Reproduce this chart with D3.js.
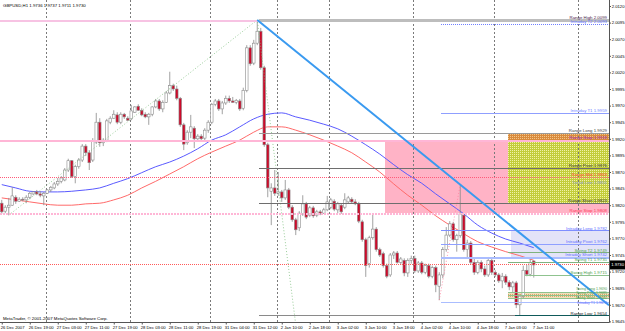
<!DOCTYPE html>
<html><head><meta charset="utf-8">
<script src="https://cdn.jsdelivr.net/npm/d3@7"></script>
<style>html,body{margin:0;padding:0;background:#fff;overflow:hidden}svg{display:block}text{font-family:"Liberation Sans",Arial,sans-serif}</style>
</head><body><svg id="c" width="625" height="331"></svg>
<script>
// ---------------- DATA ----------------
const symbolName = "GBPUSD,H1";
const copyrightText = "MetaTrader, \u00A9 2001-2007 MetaQuotes Software Corp.";
const timeLabels = ["26 Dec 2007","26 Dec 19:00","27 Dec 03:00","27 Dec 11:00","27 Dec 19:00","28 Dec 03:00","28 Dec 11:00","28 Dec 19:00","31 Dec 04:00","31 Dec 12:00","2 Jan 10:00","2 Jan 18:00","3 Jan 02:00","3 Jan 10:00","3 Jan 18:00","4 Jan 02:00","4 Jan 10:00","4 Jan 18:00","7 Jan 03:00","7 Jan 11:00"];
const timeLabelBars = [0,8,16,24,32,40,48,56,64,72,80,88,96,104,112,120,128,136,144,152];
const daySeparatorBars = [13,37,60,79,94,118,141,165];
const priceTicks = [2.0120,2.0095,2.0070,2.0045,2.0020,1.9995,1.9970,1.9945,1.9920,1.9895,1.9870,1.9845,1.9820,1.9795,1.9770,1.9745,1.9720,1.9695,1.9670,1.9645];

const opens = [1.9823,1.9811,1.9817,1.9820,1.9832,1.9826,1.9829,1.9828,1.9832,1.9837,
1.9840,1.9837,1.9834,1.9838,1.9843,1.9846,1.9852,1.9856,1.9858,1.9873,
1.9887,1.9863,1.9878,1.9888,1.9909,1.9899,1.9888,1.9915,1.9945,1.9914,
1.9918,1.9945,1.9951,1.9956,1.9945,1.9957,1.9951,1.9950,1.9960,1.9969,
1.9963,1.9957,1.9953,1.9957,1.9968,1.9977,1.9965,1.9975,1.9989,2.0000,
1.9995,1.9981,1.9941,1.9914,1.9930,1.9936,1.9920,1.9924,1.9921,1.9933,
1.9945,1.9972,1.9977,1.9965,1.9974,1.9981,1.9977,1.9975,1.9977,1.9966,
1.9993,2.0057,2.0034,2.0064,2.0082,2.0027,1.9911,1.9841,1.9846,1.9838,
1.9840,1.9831,1.9843,1.9817,1.9798,1.9786,1.9807,1.9822,1.9805,1.9816,
1.9805,1.9810,1.9808,1.9813,1.9817,1.9826,1.9813,1.9820,1.9817,1.9825,
1.9829,1.9825,1.9822,1.9795,1.9768,1.9732,1.9771,1.9784,1.9753,1.9747,
1.9729,1.9715,1.9745,1.9748,1.9734,1.9737,1.9718,1.9737,1.9740,1.9721,
1.9733,1.9719,1.9729,1.9713,1.9726,1.9698,1.9715,1.9753,1.9775,1.9792,
1.9768,1.9774,1.9805,1.9753,1.9763,1.9734,1.9719,1.9734,1.9724,1.9715,
1.9737,1.9719,1.9715,1.9706,1.9713,1.9704,1.9697,1.9703,1.9670,1.9683,
1.9722,1.9716,1.9736];
const highs = [1.9828,1.9820,1.9831,1.9847,1.9835,1.9832,1.9832,1.9835,1.9840,1.9841,
1.9843,1.9841,1.9840,1.9844,1.9849,1.9855,1.9861,1.9864,1.9876,1.9890,
1.9888,1.9881,1.9891,1.9912,1.9912,1.9903,1.9921,1.9959,1.9951,1.9921,
1.9950,1.9954,1.9963,1.9960,1.9960,1.9959,1.9954,1.9971,1.9969,1.9972,
1.9966,1.9960,1.9959,1.9969,1.9980,1.9980,1.9978,1.9992,2.0021,2.0003,
2.0000,1.9983,1.9944,1.9933,1.9956,1.9939,1.9927,1.9927,1.9936,1.9948,
1.9974,1.9980,1.9980,1.9977,1.9985,1.9985,1.9983,1.9980,1.9980,1.9997,
2.0061,2.0061,2.0069,2.0099,2.0087,2.0030,1.9914,1.9853,1.9873,1.9870,
1.9843,1.9858,1.9846,1.9820,1.9801,1.9811,1.9835,1.9825,1.9819,1.9819,
1.9813,1.9813,1.9816,1.9834,1.9831,1.9829,1.9825,1.9823,1.9838,1.9834,
1.9832,1.9829,1.9825,1.9798,1.9771,1.9774,1.9808,1.9787,1.9756,1.9750,
1.9732,1.9748,1.9751,1.9751,1.9742,1.9740,1.9740,1.9744,1.9744,1.9736,
1.9736,1.9732,1.9732,1.9729,1.9729,1.9719,1.9757,1.9787,1.9796,1.9795,
1.9777,1.9851,1.9808,1.9768,1.9766,1.9740,1.9737,1.9737,1.9729,1.9742,
1.9740,1.9722,1.9718,1.9718,1.9716,1.9707,1.9706,1.9706,1.9686,1.9729,
1.9730,1.9740,1.9737];
const lows = [1.9807,1.9808,1.9805,1.9819,1.9822,1.9825,1.9826,1.9823,1.9829,1.9835,
1.9835,1.9832,1.9820,1.9837,1.9840,1.9844,1.9849,1.9853,1.9856,1.9870,
1.9861,1.9853,1.9875,1.9885,1.9894,1.9873,1.9885,1.9912,1.9908,1.9909,
1.9915,1.9942,1.9950,1.9942,1.9942,1.9950,1.9947,1.9948,1.9959,1.9962,
1.9954,1.9951,1.9941,1.9954,1.9966,1.9962,1.9960,1.9974,1.9987,1.9992,
1.9978,1.9938,1.9903,1.9911,1.9921,1.9906,1.9917,1.9917,1.9918,1.9929,
1.9942,1.9969,1.9962,1.9957,1.9971,1.9974,1.9974,1.9972,1.9962,1.9963,
1.9990,2.0030,2.0031,2.0061,2.0024,1.9908,1.9832,1.9790,1.9834,1.9834,
1.9825,1.9828,1.9814,1.9795,1.9775,1.9781,1.9804,1.9799,1.9802,1.9801,
1.9802,1.9805,1.9807,1.9811,1.9814,1.9811,1.9808,1.9807,1.9814,1.9822,
1.9822,1.9820,1.9793,1.9765,1.9712,1.9726,1.9768,1.9750,1.9742,1.9726,
1.9710,1.9712,1.9739,1.9732,1.9730,1.9713,1.9712,1.9732,1.9718,1.9718,
1.9716,1.9716,1.9710,1.9710,1.9689,1.9677,1.9710,1.9750,1.9772,1.9765,
1.9750,1.9771,1.9750,1.9740,1.9730,1.9715,1.9716,1.9719,1.9712,1.9712,
1.9715,1.9712,1.9703,1.9695,1.9700,1.9692,1.9689,1.9665,1.9654,1.9680,
1.9713,1.9713,1.9711];
const closes = [1.9810,1.9817,1.9820,1.9834,1.9826,1.9829,1.9828,1.9832,1.9838,1.9840,
1.9837,1.9835,1.9838,1.9843,1.9847,1.9852,1.9856,1.9861,1.9873,1.9887,
1.9863,1.9878,1.9888,1.9909,1.9899,1.9884,1.9917,1.9945,1.9914,1.9918,
1.9947,1.9951,1.9957,1.9945,1.9957,1.9953,1.9948,1.9962,1.9968,1.9963,
1.9956,1.9953,1.9957,1.9968,1.9977,1.9965,1.9975,1.9989,2.0000,1.9995,
1.9981,1.9941,1.9912,1.9930,1.9938,1.9920,1.9924,1.9920,1.9933,1.9945,
1.9972,1.9977,1.9965,1.9974,1.9981,1.9977,1.9975,1.9978,1.9965,1.9993,
2.0057,2.0033,2.0064,2.0082,2.0027,1.9911,1.9846,1.9846,1.9838,1.9840,
1.9831,1.9843,1.9817,1.9798,1.9783,1.9808,1.9822,1.9802,1.9816,1.9804,
1.9810,1.9808,1.9813,1.9825,1.9828,1.9814,1.9822,1.9810,1.9828,1.9831,
1.9825,1.9822,1.9796,1.9768,1.9729,1.9771,1.9784,1.9753,1.9745,1.9729,
1.9713,1.9745,1.9748,1.9734,1.9739,1.9718,1.9737,1.9740,1.9721,1.9733,
1.9719,1.9729,1.9713,1.9726,1.9700,1.9715,1.9753,1.9775,1.9792,1.9768,
1.9774,1.9807,1.9753,1.9763,1.9734,1.9719,1.9734,1.9724,1.9715,1.9737,
1.9719,1.9715,1.9706,1.9713,1.9704,1.9697,1.9703,1.9670,1.9683,1.9722,
1.9716,1.9734,1.9730];

const maBars = [0,4,8,12,16,20,24,28,32,36,40,44,48,52,56,60,64,68,72,76,80,84,88,92,96,100,104,108,112,116,120,124,128,132,136,140,144,148,152];
const maBlue = [1.9851,1.9846,1.9841,1.9840,1.9840,1.9841,1.9843,1.9846,1.9853,1.9860,1.9869,1.9878,1.9885,1.9894,1.9905,1.9918,1.9926,1.9938,1.9950,1.9957,1.9959,1.9953,1.9948,1.9942,1.9935,1.9924,1.9911,1.9897,1.9881,1.9866,1.9853,1.9837,1.9822,1.9807,1.9790,1.9778,1.9769,1.9763,1.9756];
const maRed = [1.9831,1.9828,1.9825,1.9822,1.9820,1.9820,1.9822,1.9823,1.9828,1.9835,1.9846,1.9856,1.9867,1.9878,1.9890,1.9900,1.9909,1.9918,1.9930,1.9938,1.9938,1.9933,1.9926,1.9918,1.9909,1.9899,1.9885,1.9870,1.9852,1.9835,1.9820,1.9804,1.9790,1.9777,1.9765,1.9757,1.9750,1.9744,1.9737];

const levelNames  = ["","Range High","Intraday T2","Intraday T1","Range Long","Range Stop","Range Pivot","Range Mid","Trend Line","Range Short","Range Stop","Intraday Long","Intraday Pivot","Swing T2","Intraday Short","Swing T1","","Swing High","Swing Long","Swing Pivot","Swing Short","Intraday T1","","Range Low"];
const levelPrices = [2.0099,2.0099,2.0093,1.9959,1.9929,1.9918,1.9876,1.9863,1.9851,1.9823,1.9808,1.9782,1.9762,1.9749,1.9742,1.9735,1.9731,1.9715,1.9690,1.9685,1.9680,1.9674,1.9654,1.9654];
const levelFromBars = [0,74,126,126,74,0,74,0,null,74,0,126,126,145,126,145,0,150,145,145,145,126,74,147];
const levelToBars   = [null,null,null,null,null,null,null,null,null,null,null,null,null,null,null,null,null,null,null,null,null,null,147,null];

const zoneNames   = ["range box","range top","range body","intraday box","swing box"];
const zoneTops    = [1.9918,1.9929,1.9918,1.9782,1.9690];
const zoneBottoms = [1.9808,1.9918,1.9823,1.9742,1.9680];
const zoneFromBars = [110,145,145,146,145];

const trendBars = [73,131];
const trendPrices = [2.0099,1.9851];
const zigzagUpBars = [2,73,84];
const zigzagUpPrices = [1.9805,2.0099,1.9640];
const zigzagSpikeBars = [125,131];
const zigzagSpikePrices = [1.9677,1.9851];

// ---------------- DRAW ----------------
const svg = d3.select("#c");
const R = 609, B = 322;
const x = d3.scaleLinear().domain([0,152]).range([1.75,533.75]);
const y = d3.scaleLinear().domain([2.0120,1.9645]).range([6,321.4]);
const bw = x(1)-x(0);
const leftEdge = i => x(i) - bw/2;
const FS = 4.35;
const AFS = 4.2;

const defs = svg.append("defs");
defs.append("clipPath").attr("id","plot").append("rect").attr("x",0).attr("y",0).attr("width",R).attr("height",B);
function dotPattern(id, base, dot){
  const p = defs.append("pattern").attr("id",id).attr("width",2).attr("height",2).attr("patternUnits","userSpaceOnUse");
  p.append("rect").attr("width",2).attr("height",2).attr("fill",base);
  p.append("rect").attr("width",1).attr("height",1).attr("fill",dot);
}
dotPattern("pYel","#c3cd3a","#f0f2a6");
dotPattern("pOra","#d98b3c","#f2c48a");
dotPattern("pSw","#f3dfbd","#dcaa66");

svg.append("rect").attr("width",625).attr("height",331).attr("fill","#fff");
const g = svg.append("g").attr("clip-path","url(#plot)");

const zoneFills = ["#ffb3c6","url(#pOra)","url(#pYel)","#e3e3f8","url(#pSw)"];
g.selectAll("rect.zone").data(zoneNames).join("rect").attr("class","zone")
  .attr("x",(d,i)=>leftEdge(zoneFromBars[i]))
  .attr("y",(d,i)=>y(zoneTops[i]))
  .attr("width",(d,i)=>R-leftEdge(zoneFromBars[i]))
  .attr("height",(d,i)=>y(zoneBottoms[i])-y(zoneTops[i]))
  .attr("fill",(d,i)=>zoneFills[i]).attr("shape-rendering","crispEdges");

// day separators
g.selectAll("line.sep").data(daySeparatorBars).join("line").attr("class","sep")
  .attr("x1",d=>Math.round(leftEdge(d))+0.5).attr("x2",d=>Math.round(leftEdge(d))+0.5)
  .attr("y1",0).attr("y2",B)
  .attr("stroke","#7a7a7a").attr("stroke-width",1).attr("stroke-dasharray","2,2");

// moving averages
const maLine = d3.line().x((d,i)=>x(maBars[i])).y(d=>y(d)).curve(d3.curveMonotoneX);
g.append("path").datum(maBlue).attr("d",maLine).attr("fill","none").attr("stroke","#5a5aff").attr("stroke-width",1);
g.append("path").datum(maRed).attr("d",maLine).attr("fill","none").attr("stroke","#ff6a6a").attr("stroke-width",1);

// candles
const idx = d3.range(opens.length);
g.selectAll("line.wick").data(idx).join("line").attr("class","wick")
  .attr("x1",i=>x(i)).attr("x2",i=>x(i))
  .attr("y1",i=>y(highs[i])).attr("y2",i=>y(lows[i]))
  .attr("stroke","#8a8a8a").attr("stroke-width",0.8);
g.selectAll("rect.body").data(idx).join("rect").attr("class","body")
  .attr("x",i=>x(i)-1.3).attr("width",2.6)
  .attr("y",i=>y(Math.max(opens[i],closes[i])))
  .attr("height",i=>Math.max(0.8,Math.abs(y(opens[i])-y(closes[i]))))
  .attr("fill",i=>closes[i]>=opens[i]?"#ffffff":"#cc0a2a")
  .attr("stroke","#8a8a8a").attr("stroke-width",0.6);

// zigzag dotted lines
const zz = d3.line().x(d=>x(d[0])).y(d=>y(d[1]));
g.append("path").datum(zigzagUpBars.map((b,i)=>[b,zigzagUpPrices[i]])).attr("d",zz)
  .attr("fill","none").attr("stroke","#7fbf7f").attr("stroke-width",0.8).attr("stroke-dasharray","1,2");
g.append("path").datum(zigzagSpikeBars.map((b,i)=>[b,zigzagSpikePrices[i]])).attr("d",zz)
  .attr("fill","none").attr("stroke","#ff7f9a").attr("stroke-width",0.8).attr("stroke-dasharray","1,2");

// horizontal levels
const levelStyles = [
 {c:"#f7c3e3",w:2,d:null,t:null},
 {c:"#bdbdbd",w:3,d:null,t:"#4a1a4a"},
 {c:"#6f7fff",w:1,d:"1,1",t:"#5f6fff"},
 {c:"#8f9fff",w:1,d:null,t:"#6f7fff"},
 {c:"#9a9a9a",w:1,d:null,t:"#3a3a3a"},
 {c:"#ffb6d6",w:2,d:null,t:"#a52ab8"},
 {c:"#6e6e6e",w:1,d:null,t:"#3a3a3a"},
 {c:"#ff5a78",w:1,d:"1,1",t:"#ff4a40"},
 {c:null,w:0,d:null,t:"#8aa0d0"},
 {c:"#6e6e6e",w:1,d:null,t:"#3a3a3a"},
 {c:"#ffb6d6",w:2,d:"2,1",t:"#ff3a5a"},
 {c:"#7f8fff",w:1,d:null,t:"#5f6fff"},
 {c:"#8f9fff",w:1,d:null,t:"#5f6fff"},
 {c:"#7fb37f",w:1,d:null,t:"#4f9f4f"},
 {c:"#aabdff",w:2,d:null,t:"#5f6fff"},
 {c:"#7fb37f",w:1,d:null,t:"#4f9f4f"},
 {c:"#ff5a5a",w:1,d:"1,1",t:null},
 {c:"#8fc38f",w:1,d:null,t:"#4f9f4f"},
 {c:"#8fc38f",w:1,d:null,t:"#4f9f4f"},
 {c:"#8fc38f",w:1,d:null,t:"#4f9f4f"},
 {c:"#8fc38f",w:1,d:null,t:"#4f9f4f"},
 {c:"#aabdff",w:1.5,d:null,t:"#5f6fff"},
 {c:"#8a8a8a",w:1,d:null,t:null},
 {c:"#0f5a5a",w:1.5,d:null,t:"#1a1a1a"}
];
levelNames.forEach((name,i)=>{
  const s = levelStyles[i];
  const yy = Math.round(y(levelPrices[i]))+0.5;
  if (s.c && levelFromBars[i]!==null){
    const x1 = levelFromBars[i]===0?0:leftEdge(levelFromBars[i]);
    const x2 = levelToBars[i]===null?R:leftEdge(levelToBars[i]);
    const ln = g.append("line").attr("x1",x1).attr("x2",x2).attr("y1",yy).attr("y2",yy)
      .attr("stroke",s.c).attr("stroke-width",s.w).attr("shape-rendering","crispEdges");
    if (s.d) ln.attr("stroke-dasharray",s.d);
  }
});

// trend line (ray through two anchors)
const tb0=trendBars[0], tb1=trendBars[1], tp0=trendPrices[0], tp1=trendPrices[1];
const bEnd = x.invert(R);
const pEnd = tp0 + (tp1-tp0)*(bEnd-tb0)/(tb1-tb0);
g.append("line").attr("x1",x(tb0)).attr("y1",y(tp0)).attr("x2",x(bEnd)).attr("y2",y(pEnd))
  .attr("stroke","#3a9af0").attr("stroke-width",2);

// level labels (the crowded swing group is nudged so texts stay legible)
const labelNudge = {18:-1.2, 19:0, 20:1.2, 21:2.6};
levelNames.forEach((name,i)=>{
  const s = levelStyles[i];
  if (!name || !s.t) return;
  svg.append("text").attr("x",R-2).attr("y",y(levelPrices[i])-0.8+(labelNudge[i]||0))
    .attr("text-anchor","end").attr("font-size",(i>=18&&i<=21)?3.6:FS).attr("fill",s.t)
    .text(name+"  "+levelPrices[i].toFixed(4));
});

// texts
const n = opens.length-1;
svg.append("text").attr("x",3).attr("y",7).attr("font-size",FS).attr("fill","#000")
  .text(symbolName+"  "+[opens[n],highs[n],lows[n],closes[n]].map(v=>v.toFixed(4)).join(" "));
svg.append("text").attr("x",3).attr("y",320).attr("font-size",FS).attr("fill","#000").text(copyrightText);

// frame
svg.append("line").attr("x1",R+0.5).attr("x2",R+0.5).attr("y1",0).attr("y2",B+0.5).attr("stroke","#555");
svg.append("line").attr("x1",0).attr("x2",R+0.5).attr("y1",B+0.5).attr("y2",B+0.5).attr("stroke","#555");

// axes
const ya = svg.append("g").attr("transform",`translate(${R+0.5},0)`)
  .call(d3.axisRight(y).tickValues(priceTicks).tickFormat(d3.format(".4f")).tickSize(1.5).tickSizeOuter(0));
ya.select(".domain").remove();
ya.attr("font-size",AFS).attr("font-family","Liberation Sans, Arial, sans-serif");
ya.selectAll("line").attr("stroke","#555");
ya.selectAll("text").attr("x",2.2).attr("fill","#000");

const xa = svg.append("g").attr("transform",`translate(0,${B+0.5})`)
  .call(d3.axisBottom(x).tickValues(timeLabelBars).tickFormat((d,i)=>timeLabels[i]).tickSize(2).tickSizeOuter(0));
xa.select(".domain").remove();
xa.attr("font-size",AFS).attr("font-family","Liberation Sans, Arial, sans-serif");
xa.selectAll("line").attr("stroke","#555");
xa.selectAll("text").attr("text-anchor","start").attr("dx",-1.5).attr("y",3).attr("dy","0.9em").attr("fill","#000");

// current price box
const cp = closes[n];
svg.append("rect").attr("x",R+1).attr("y",y(cp)-4.5).attr("width",625-R-1).attr("height",9).attr("fill","#000");
svg.append("text").attr("x",R+2.2).attr("y",y(cp)+1.5).attr("font-size",AFS).attr("fill","#fff").text(cp.toFixed(4));
</script></body></html>
